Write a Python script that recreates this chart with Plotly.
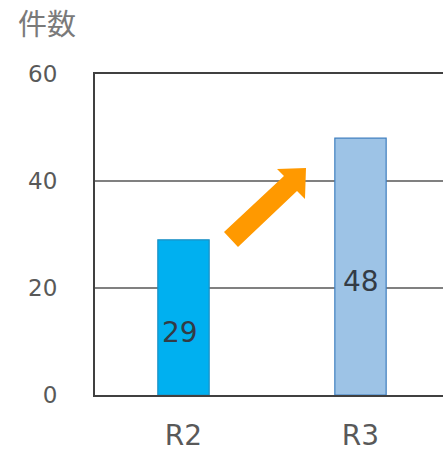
import plotly.graph_objects as go

# Data
categories = ["R2", "R3"]
counts = [29, 48]
bar_colors = ["#00B0F0", "#9DC3E6"]
bar_edges = ["#1C8FC4", "#3F7FBF"]
y_ticks = [0, 20, 40, 60]
y_title = "件数"

W, H = 443, 455
M_L, M_R, M_T, M_B = 95, 0, 74, 60
PW, PH = W - M_L - M_R, H - M_T - M_B


def px(x, y):
    """Pixel position on the page -> paper coordinates."""
    return (x - M_L) / PW, (H - M_B - y) / PH


fig = go.Figure()
fig.add_trace(go.Bar(
    x=list(range(len(categories))),
    y=counts,
    width=0.29,
    marker=dict(color=bar_colors, line=dict(color=bar_edges, width=1.2)),
    hoverinfo="skip",
))

# value labels inside the bars
for i, v in enumerate(counts):
    fig.add_annotation(
        x=i - 0.02 if i == 0 else i, y=v / 2, text=str(v), showarrow=False,
        yshift=-15, font=dict(family="DejaVu Sans", size=28, color="#333b45"),
    )

# orange block arrow between the bars
pts = [(224, 232), (284, 176), (277, 169), (306, 168), (305, 199), (297, 191), (238, 247)]
path = "M " + " L ".join("{:.4f},{:.4f}".format(*px(x, y)) for x, y in pts) + " Z"
fig.add_shape(type="path", path=path, xref="paper", yref="paper",
              fillcolor="#FF9900", line=dict(width=0))

# axis title at the top left
fig.add_annotation(x=px(47, 0)[0], y=px(0, 22)[1], xref="paper", yref="paper",
                   text=y_title, showarrow=False, xanchor="center", yanchor="middle",
                   font=dict(family="Noto Sans CJK JP", size=29, color="#7a7a7a"))

fig.update_layout(
    width=W, height=H,
    margin=dict(l=M_L, r=M_R, t=M_T, b=M_B, autoexpand=False),
    paper_bgcolor="white", plot_bgcolor="white",
    showlegend=False,
    xaxis=dict(
        range=[-0.5, -0.5 + PW / 177], automargin=False,
        tickvals=list(range(len(categories))), ticktext=categories,
        showline=True, linecolor="#404040", linewidth=2, mirror=True,
        showgrid=False, zeroline=False, ticks="",
        ticklabelstandoff=14,
        tickfont=dict(family="DejaVu Sans", size=28, color="#595959"),
    ),
    yaxis=dict(
        range=[0, 60], tickvals=y_ticks, automargin=False,
        showline=True, linecolor="#404040", linewidth=2,
        showgrid=True, gridcolor="#808080", gridwidth=2, zeroline=False,
        ticks="", ticklabelstandoff=31,
        tickfont=dict(family="DejaVu Sans", size=23, color="#595959"),
    ),
)

fig.write_html("out.html")
